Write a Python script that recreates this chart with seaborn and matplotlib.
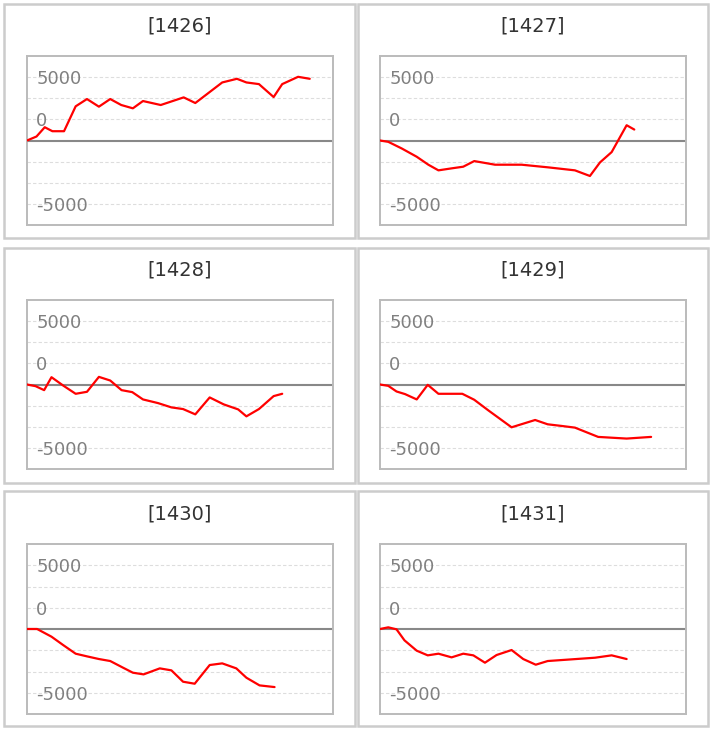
import numpy as np
import pandas as pd
import seaborn as sns
import matplotlib.pyplot as plt
from matplotlib.patches import Rectangle
from matplotlib.transforms import blended_transform_factory

# titulos de cada painel
titulos = ["[1426]", "[1427]", "[1428]", "[1429]", "[1430]", "[1431]"]

# valores (x em % do eixo, y em valor)
x_1426 = [0, 3.1, 5.8, 8.3, 12.1, 15.9, 19.6, 23.5, 27.2, 30.8, 34.6, 37.9, 43.7, 51.2, 55.0, 63.8, 68.6, 71.7, 75.8, 80.6, 83.4, 88.6, 92.4]
y_1426 = [0, 314, 1047, 733, 733, 2696, 3271, 2669, 3271, 2800, 2538, 3114, 2800, 3402, 2957, 4580, 4868, 4580, 4449, 3428, 4449, 5025, 4868]

x_1427 = [0, 2.7, 7.1, 12.0, 15.8, 19.1, 23.4, 27.2, 30.8, 37.6, 46.3, 55.0, 63.7, 68.6, 71.9, 75.7, 80.6, 83.1]
y_1427 = [0, -105, -628, -1282, -1910, -2355, -2198, -2067, -1623, -1910, -1910, -2120, -2355, -2800, -1727, -916, 1204, 864]

x_1428 = [0, 2.8, 5.6, 8.0, 11.8, 15.9, 19.6, 23.5, 27.2, 30.9, 34.4, 37.9, 42.8, 47.2, 51.0, 55.0, 59.7, 64.3, 69.0, 71.7, 75.8, 80.6, 83.4]
y_1428 = [0, -131, -445, 576, -79, -733, -576, 602, 314, -445, -602, -1178, -1466, -1806, -1937, -2355, -1021, -1570, -1963, -2512, -1937, -916, -733]

x_1429 = [0, 2.7, 5.4, 8.2, 12.0, 15.6, 19.1, 26.9, 30.8, 35.4, 43.0, 50.7, 54.8, 59.4, 63.7, 71.3, 76.8, 80.6, 88.6]
y_1429 = [0, -105, -550, -759, -1178, -26, -733, -733, -1204, -2041, -3376, -2800, -3140, -3271, -3402, -4135, -4213, -4266, -4135]

x_1430 = [0, 3.3, 8.0, 11.8, 15.9, 19.6, 23.5, 27.2, 31.4, 34.6, 38.1, 43.4, 47.2, 51.0, 54.8, 59.7, 63.8, 68.4, 71.7, 76.0, 80.9]
y_1430 = [0, 0, -602, -1256, -1937, -2146, -2355, -2512, -3036, -3428, -3559, -3088, -3245, -4135, -4292, -2826, -2696, -3088, -3821, -4423, -4554]

x_1431 = [0, 2.7, 5.4, 8.0, 12.0, 15.6, 19.1, 23.4, 27.2, 30.5, 34.3, 38.1, 43.0, 46.8, 50.9, 54.8, 62.6, 70.3, 75.7, 80.6]
y_1431 = [0, 131, -26, -890, -1701, -2067, -1937, -2224, -1937, -2067, -2643, -2041, -1649, -2355, -2800, -2512, -2381, -2251, -2067, -2355]

# rotulos do eixo y e em que linha da grade ficam
rotulos_y = ["5000", "0", "-5000"]
linhas_rotulo = [3, 1, -3]

series = [(x_1426, y_1426), (x_1427, y_1427), (x_1428, y_1428),
          (x_1429, y_1429), (x_1430, y_1430), (x_1431, y_1431)]

G = 5000 / 3  # espacamento da grade

W, H = 713, 730
fig = plt.figure(figsize=(W / 100, H / 100), dpi=100)
sns.set_style("white")
plt.rcParams['font.family'] = ['DejaVu Sans']

# posicoes em pixels
caixas_x = [(4, 355), (358, 708)]
caixas_y = [(4, 238), (248, 483), (491, 726)]
plot_x = [27, 380]
plot_y = [(56, 225), (300, 469), (544, 714)]
plot_w = 306

for i, (xs, ys) in enumerate(series):
    lin, col = divmod(i, 2)

    # moldura externa do painel
    x0, x1 = caixas_x[col]
    y0, y1 = caixas_y[lin]
    fig.patches.append(Rectangle((x0 / W, 1 - y1 / H), (x1 - x0) / W, (y1 - y0) / H,
                                 transform=fig.transFigure, fill=False,
                                 edgecolor="#cccccc", linewidth=1.8))

    top, bot = plot_y[lin]
    ax = fig.add_axes([plot_x[col] / W, 1 - bot / H, plot_w / W, (bot - top) / H])

    # grade tracejada
    for k in [-3, -2, -1, 1, 2, 3]:
        ax.axhline(k * G, color="#dddddd", linewidth=0.8, linestyle=(0, (3, 2)), zorder=1)
    ax.axhline(0, color="#888888", linewidth=1.5, zorder=2)

    tabela = pd.DataFrame({"x": xs, "y": ys})
    sns.lineplot(data=tabela, x="x", y="y", ax=ax, color="#ff0000", linewidth=1.6, zorder=3)

    ax.set_xlim(0, 100)
    ax.set_ylim(-4 * G, 4 * G)
    ax.set_xticks([])
    ax.set_yticks([])
    ax.set_xlabel("")
    ax.set_ylabel("")
    for s in ax.spines.values():
        s.set_color("#bbbbbb")
        s.set_linewidth(1.4)

    trans = blended_transform_factory(ax.transAxes, ax.transData)
    for rot, k in zip(rotulos_y, linhas_rotulo):
        ax.text(0.03, k * G - 150, rot, transform=trans, ha="left", va="center",
                fontsize=13, color="#808080", zorder=4)

    # titulo do painel
    cx = (x0 + x1) / 2
    fig.text(cx / W, 1 - (top - 30) / H, titulos[i], ha="center", va="center",
             fontsize=14, color="#333333")

plt.savefig("out.png", dpi=100)
